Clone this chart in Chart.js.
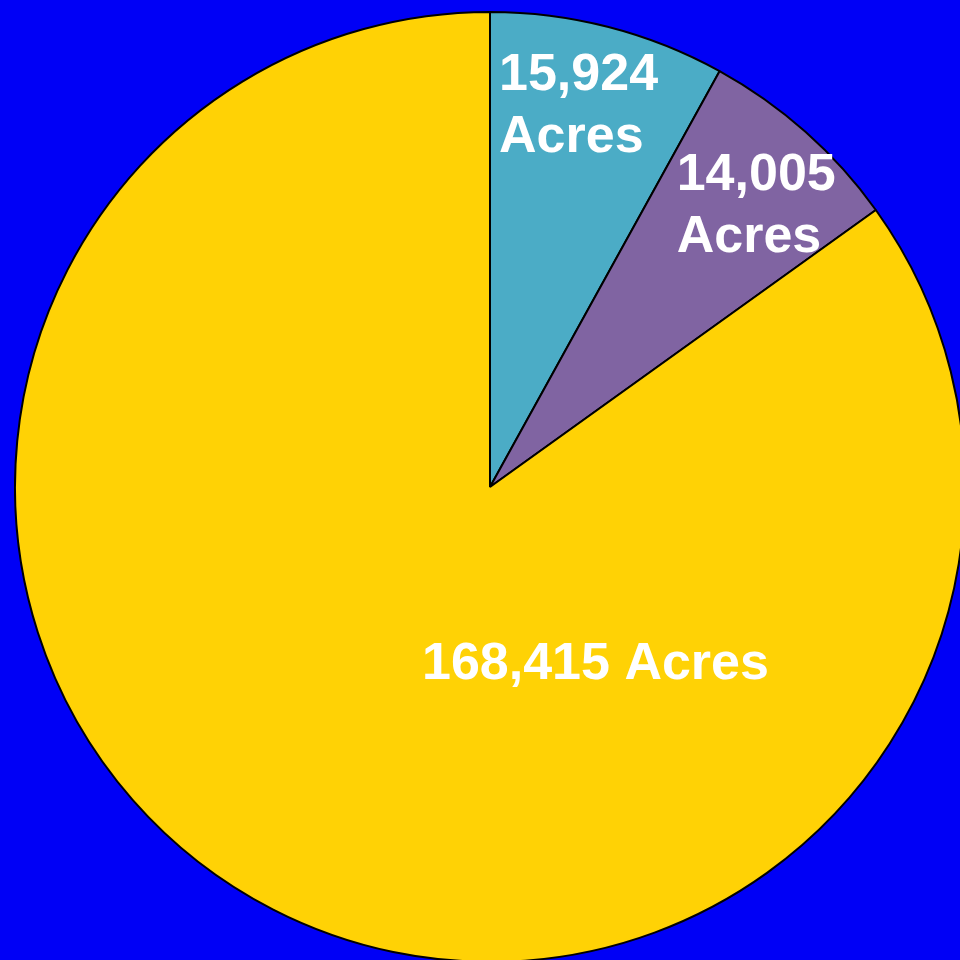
<!DOCTYPE html>
<html>
<head>
<meta charset="utf-8">
<script src="https://cdn.jsdelivr.net/npm/chart.js@4"></script>
<style>
html,body{margin:0;padding:0;background:#0000f6;width:960px;height:960px;overflow:hidden;}
#wrap{position:absolute;left:14px;top:11px;width:952px;height:952px;}
</style>
</head>
<body>
<div id="wrap"><canvas id="chart"></canvas></div>
<script>
// acreage by category, clockwise from 12 o'clock
const labels = ["15,924 Acres", "14,005 Acres", "168,415 Acres"];
const acres = [15924, 14005, 168415];
const colors = ["#4bacc6", "#8064a2", "#ffd205"];
// label text lines, drawn inside each slice
const textLines = [["15,924", "Acres"], ["14,005", "Acres"], ["168,415 Acres"]];
// label anchor as offset from pie centre, in units of the radius
const textSpot = [[0.019, -0.80], [0.393, -0.59], [0.222, 0.373]];
const textAlign = ["left", "left", "center"];

const sliceText = {
 id: "sliceText",
 afterDatasetsDraw(chart) {
  const ctx = chart.ctx;
  const arcs = chart.getDatasetMeta(0).data;
  ctx.save();
  ctx.fillStyle = "#fff";
  ctx.font = "bold 52px 'Liberation Sans', Arial, sans-serif";
  ctx.textBaseline = "middle";
  arcs.forEach((a, i) => {
   const r = a.outerRadius;
   const cx = a.x + textSpot[i][0] * r, cy = a.y + textSpot[i][1] * r;
   const lines = textLines[i];
   const lh = 62;
   ctx.textAlign = textAlign[i];
   lines.forEach((t, k) => {
    ctx.fillText(t, cx, cy + (k - (lines.length - 1) / 2) * lh);
   });
  });
  ctx.restore();
 }
};

new Chart(document.getElementById("chart"), {
 type: "pie",
 data: {
  labels: labels,
  datasets: [{ data: acres, backgroundColor: colors, borderColor: "#000", borderWidth: 2 }]
 },
 options: {
  responsive: true, maintainAspectRatio: false, animation: false,
  layout: { padding: 0 },
  plugins: { legend: { display: false }, tooltip: { enabled: false } }
 },
 plugins: [sliceText]
});
</script>
</body>
</html>
